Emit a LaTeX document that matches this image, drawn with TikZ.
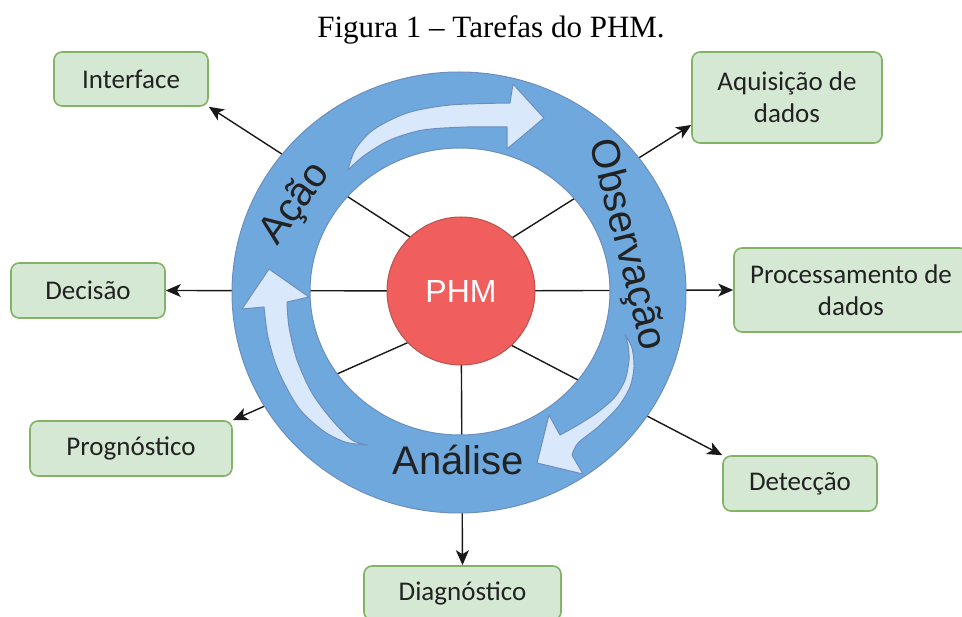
\documentclass[tikz,border=0pt]{standalone}
\usepackage{fontspec}
\setmainfont{Carlito}
\newfontfamily\titlefont{Liberation Serif}
\newfontfamily\arialfont{Liberation Sans}
\usetikzlibrary{arrows.meta,calc}
\pgfdeclarelayer{bg}
\pgfdeclarelayer{mid}
\pgfsetlayers{bg,mid,main}
\definecolor{ringblue}{HTML}{6FA8DC}
\definecolor{ringedge}{HTML}{6C8EBF}
\definecolor{arrfill}{HTML}{DAE8FC}
\definecolor{phmred}{HTML}{F05E5E}
\definecolor{phmedge}{HTML}{B85450}
\definecolor{boxfill}{HTML}{D5E8D4}
\definecolor{boxedge}{HTML}{82B366}
\definecolor{txt}{HTML}{222222}
\begin{document}
\begin{tikzpicture}[x=1pt,y=-1pt,
  box/.style={draw=boxedge, fill=boxfill, line width=1.6pt, rounded corners=8pt,
    font=\fontsize{27}{32}\selectfont, text=txt, align=center, inner sep=0pt},
  spoke/.style={line width=1.4pt, draw=black!90},
  arr/.style={spoke, -{Stealth[length=15pt,width=13pt,inset=4pt]}},
  ringlabel/.style={font=\arialfont\fontsize{40}{40}\selectfont, text=txt, inner sep=0pt},
  curvarr/.style={fill=arrfill, draw=ringedge, line width=1pt, line join=round}]
\useasboundingbox (0,0) rectangle (962,617);

% title
\node[font=\titlefont\fontsize{31}{31}\selectfont, anchor=base, text=black] (title) at (491,38) {Figura 1 – Tarefas do PHM.};

% boxes
\node[box, minimum width=154pt, minimum height=54pt] (iface) at (131,79) {Interface};
\node[box, minimum width=190pt, minimum height=91pt] (aq) at (787,97.5) {Aquisição de\\dados};
\node[box, minimum width=234pt, minimum height=84pt] (proc) at (851,290) {Processamento de\\dados};
\node[box, minimum width=154pt, minimum height=55pt] (dec) at (88,290.5) {Decisão};
\node[box, minimum width=202pt, minimum height=55pt] (prog) at (131,448.5) {Prognóstico};
\node[box, minimum width=154pt, minimum height=55pt] (det) at (800,483.5) {Detecção};
\node[box, minimum width=197pt, minimum height=54pt] (diag) at (462.5,593) {Diagnóstico};

% centre
\node[circle, fill=phmred, draw=phmedge, line width=1pt, minimum size=148pt, inner sep=0pt,
  font=\arialfont\fontsize{32}{32}\selectfont, text=white] (phm) at (461,291) {PHM};
\coordinate (phmup) at ($(phm.center)+(0,-21)$);
\coordinate (phmdn) at ($(phm.center)+(0,28)$);

% spokes
\begin{pgfonlayer}{bg}
\draw[arr] (phmup) -- (iface.south east);
\draw[arr] (phmup) -- (aq.196);
\draw[arr] (phm.center) -- (proc.west);
\draw[arr] (phm.center) -- (dec.east);
\draw[arr] (phmdn) -- (prog.north east);
\draw[arr] (phmdn) -- (det.north west);
\draw[arr] (phm.center) -- (diag.north);
\end{pgfonlayer}

% ring
\begin{pgfonlayer}{mid}
\path[fill=ringblue, draw=ringedge, line width=1pt, even odd rule]
  (459,292.5) ellipse [x radius=227, y radius=220.5]
  (460,291.5) ellipse [x radius=150, y radius=143.5];

% curved arrows
\path[curvarr] (348,170)
  -- plot[smooth] coordinates {(348,170) (355,150) (373,130) (407,113) (450,105) (510,103)}
  -- (513,84) -- (544,118) -- (507,149) -- (507,127)
  -- plot[smooth] coordinates {(507,127) (467,127) (423,130) (390,140) (365,155) (350,168)}
  -- cycle;
\path[curvarr] (368,445)
  -- plot[smooth] coordinates {(368,445) (345,442) (322,430) (298,407) (278,370) (268,337) (264,307)}
  -- (242,309) -- (269,269) -- (309,297) -- (287,302)
  -- plot[smooth] coordinates {(287,302) (289,327) (297,360) (312,393) (332,420) (352,440) (368,445)}
  -- cycle;
\path[curvarr] (625,334)
  -- plot[smooth] coordinates {(625,334) (632,348) (634,367) (630,387) (618,407) (598,427) (578,443) (572,455)}
  -- (583,474) -- (537,463) -- (549,415) -- (560,435)
  -- plot[smooth] coordinates {(560,435) (578,425) (598,412) (615,397) (625,380) (629,360) (628,345) (625,334)}
  -- cycle;

% ring labels
\node[ringlabel, rotate=54] (acao) at (296,204) {Ação};
\node[ringlabel, rotate=-76] (obs) at (626,245) {Observação};
\node[ringlabel, anchor=base] (anal) at (458,475) {Análise};
\end{pgfonlayer}
\end{tikzpicture}
\end{document}
